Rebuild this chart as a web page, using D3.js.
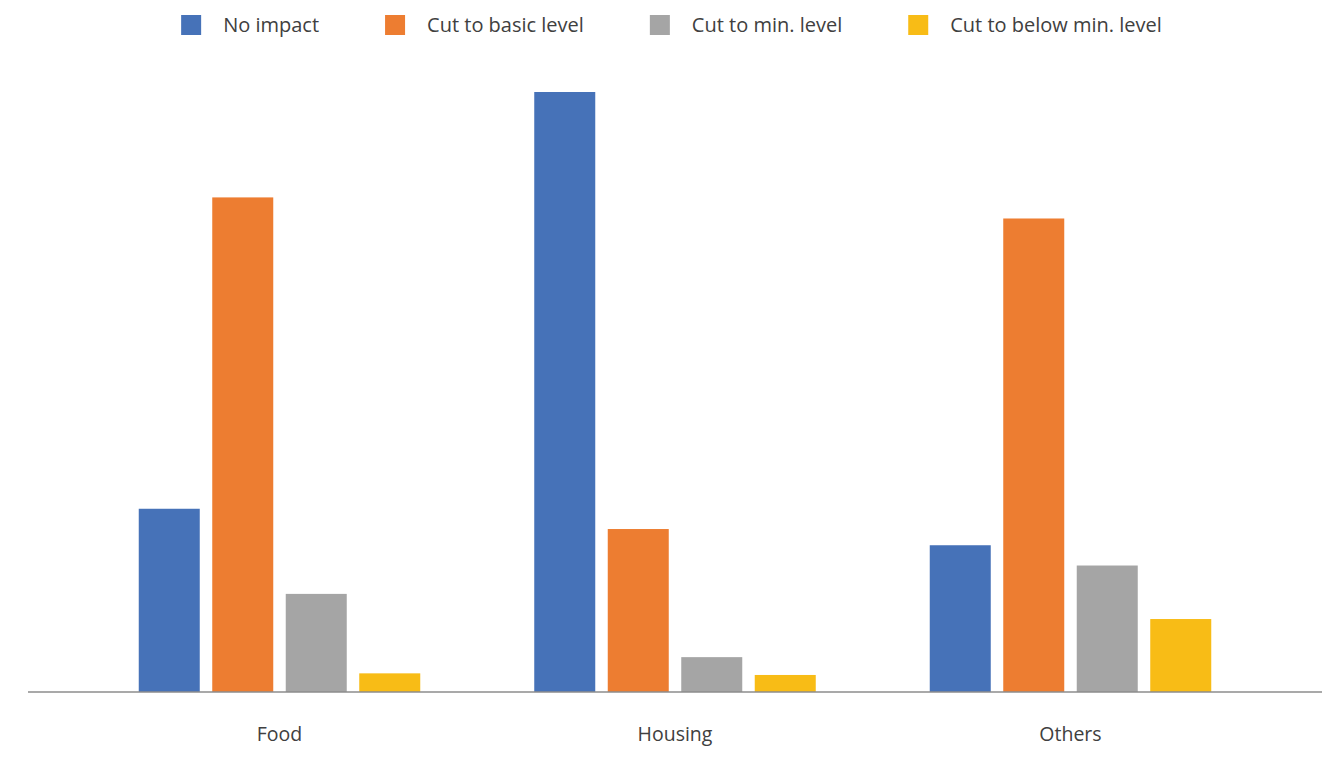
<!DOCTYPE html>
<html><head><meta charset="utf-8">
<script src="https://cdn.jsdelivr.net/npm/d3@7"></script>
<style>
html,body{margin:0;padding:0;background:#fff;}
text{font-family:"Open Sans","Noto Sans",sans-serif;fill:#404040;}
</style></head>
<body><svg id="c" width="1333" height="767"></svg>
<script>
const categories = ["Food", "Housing", "Others"];
const seriesNames = ["No impact", "Cut to basic level", "Cut to min. level", "Cut to below min. level"];
const noImpact = [22.6, 74.0, 18.1];
const cutBasic = [61.0, 20.1, 58.4];
const cutMin = [12.1, 4.3, 15.6];
const cutBelowMin = [2.3, 2.1, 9.0];
const colors = ["#4672B8", "#ED7D31", "#A5A5A5", "#F8BC16"];

const seriesValues = [noImpact, cutBasic, cutMin, cutBelowMin];
const svg = d3.select("#c");
const baseY = 692;

const x0 = d3.scaleBand().domain(categories).range([81.75, 1268.25]).padding(0);
const x1 = d3.scaleBand().domain(seriesNames).range([57, 338.5]).paddingInner(0.17).paddingOuter(0);
const y = d3.scaleLinear().domain([0, 74]).range([baseY, 92]);

const groups = svg.append("g").selectAll("g").data(categories).join("g")
  .attr("transform", d => `translate(${x0(d)},0)`);
groups.selectAll("rect").data((c, i) => seriesNames.map((s, j) => ({s, v: seriesValues[j][i], j})))
  .join("rect")
  .attr("x", d => x1(d.s))
  .attr("width", x1.bandwidth())
  .attr("y", d => y(d.v))
  .attr("height", d => baseY - y(d.v))
  .attr("fill", d => colors[d.j]);

svg.append("line").attr("x1", 28).attr("x2", 1322).attr("y1", baseY).attr("y2", baseY)
  .attr("stroke", "#8c8c8c").attr("stroke-width", 1.5);

svg.append("g").selectAll("text").data(categories).join("text")
  .attr("x", d => x0(d) + x0.bandwidth() / 2)
  .attr("y", 741)
  .attr("text-anchor", "middle")
  .attr("font-size", 19.5)
  .text(d => d);

// legend
const lg = svg.append("g");
const items = lg.selectAll("g").data(seriesNames).join("g");
items.append("rect").attr("width", 20).attr("height", 20).attr("y", 15).attr("fill", (d, i) => colors[i]);
items.append("text").attr("x", 42).attr("y", 32).attr("font-size", 20).text(d => d);
let xpos = 0; const pos = [];
items.each(function () {
  pos.push(xpos);
  const w = d3.select(this).select("text").node().getComputedTextLength();
  xpos += 42 + w + 66;
});
const total = xpos - 66;
const start = 671.5 - total / 2;
items.attr("transform", (d, i) => `translate(${start + pos[i]},0)`);
</script></body></html>
